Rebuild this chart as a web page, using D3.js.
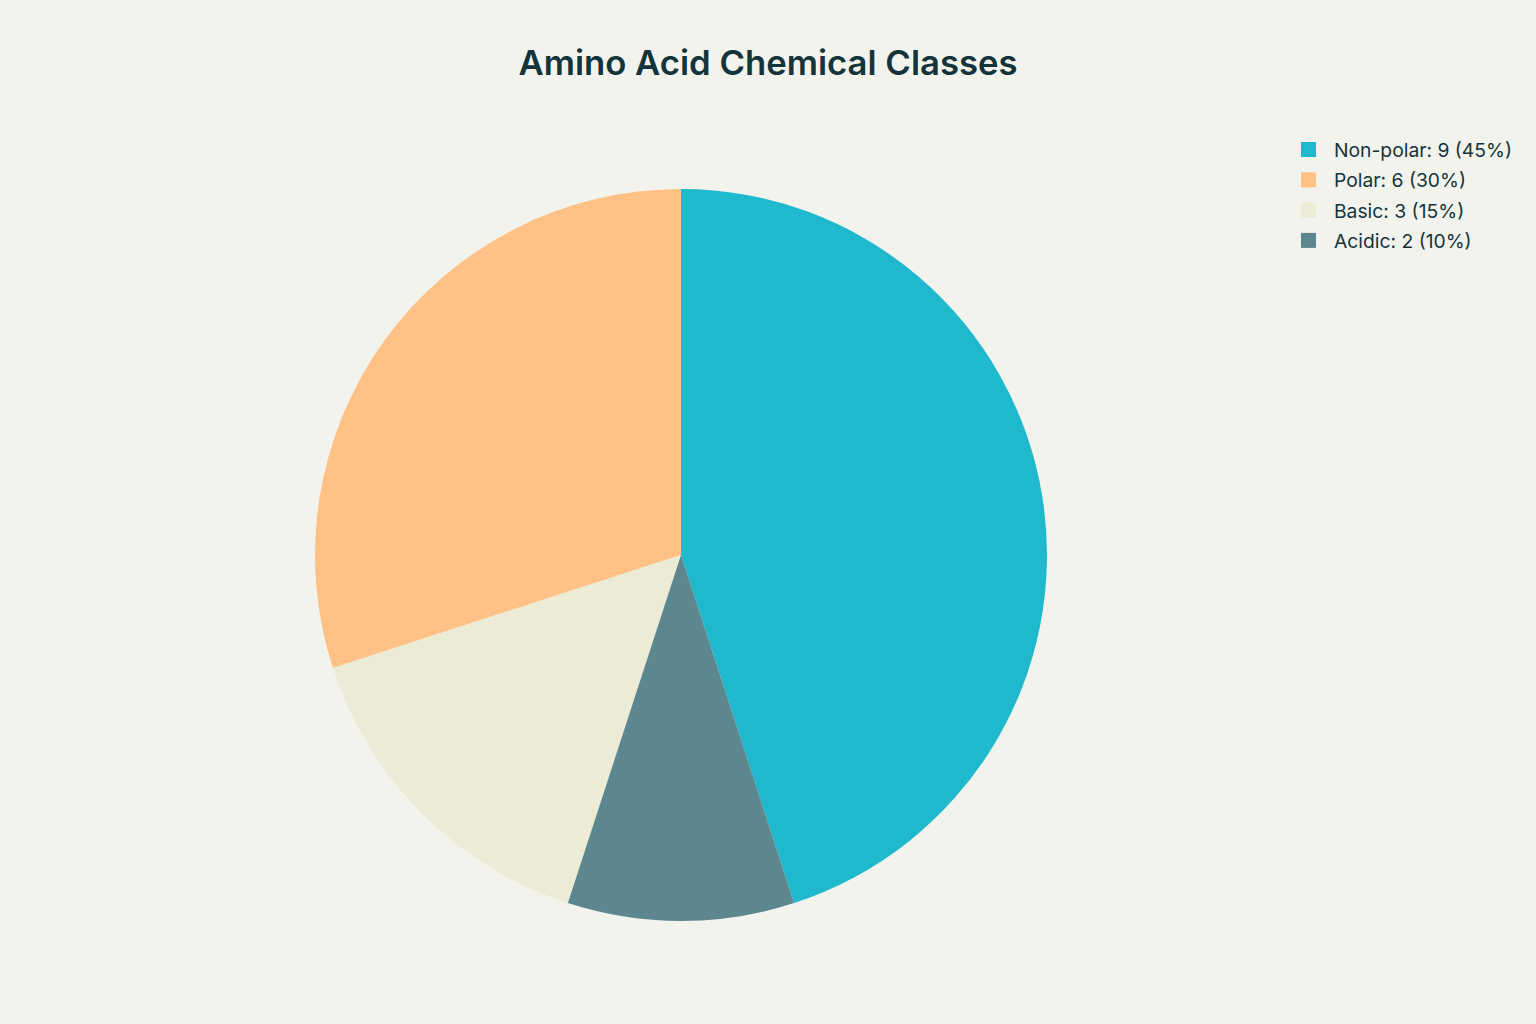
<!DOCTYPE html>
<html>
<head>
    <title>Amino Acid Chemical Classes</title>
    <script type="text/javascript" src="https://d3js.org/d3.v7.min.js"></script>
    <style>
        body { margin: 0; background: #F3F3EE; }
    </style>
</head>
<body>
    <div id="div-svg"></div>

    <script type="text/javascript">
        // chart data, legend order
        const categories = ["Non-polar", "Polar", "Basic", "Acidic"];
        const counts = [9, 6, 3, 2];
        const colors = ["#1FB8CD", "#FFC185", "#ECEBD5", "#5D878F"];
        // order the slices run clockwise from 12 o'clock
        const sliceOrder = ["Non-polar", "Acidic", "Basic", "Polar"];

        let width = 1536;
        let height = 1024;

        let total = d3.sum(counts);
        let data = categories.map(function (c, i) {
            return { name: c, value: counts[i], color: colors[i] };
        });

        let svg = d3.select("#div-svg")
            .append("svg")
            .attr("id", "svg-1")
            .attr("width", width)
            .attr("height", height);

        svg.append("rect")
            .attr("width", width)
            .attr("height", height)
            .attr("fill", "#F3F3EE");

        // title
        svg.append("text")
            .attr("x", 768)
            .attr("y", 75)
            .attr("text-anchor", "middle")
            .attr("font-family", "Inter, 'Open Sans', sans-serif")
            .attr("font-weight", 600)
            .attr("font-size", 34.7)
            .attr("fill", "#13343B")
            .text("Amino Acid Chemical Classes");

        // pie
        let pie = d3.pie()
            .value(function (d) { return d.value; })
            .sort(function (a, b) { return sliceOrder.indexOf(a.name) - sliceOrder.indexOf(b.name); });

        let arc = d3.arc()
            .innerRadius(0)
            .outerRadius(366);

        svg.append("g")
            .attr("transform", "translate(681,555)")
            .selectAll("path")
            .data(pie(data))
            .enter()
            .append("path")
            .attr("d", arc)
            .attr("fill", function (d) { return d.data.color; });

        // legend
        let legend = svg.append("g")
            .attr("transform", "translate(1301,150)")
            .selectAll("g")
            .data(data)
            .enter()
            .append("g")
            .attr("transform", function (d, i) { return "translate(0," + (i * 30.3) + ")"; });

        legend.append("rect")
            .attr("x", 0)
            .attr("y", -8)
            .attr("width", 15)
            .attr("height", 15)
            .attr("fill", function (d) { return d.color; });

        legend.append("text")
            .attr("x", 33)
            .attr("y", 7)
            .attr("font-family", "Inter, 'Open Sans', sans-serif")
            .attr("font-size", 19.3)
            .attr("fill", "#13343B")
            .text(function (d) {
                return d.name + ": " + d.value + " (" + Math.round(d.value / total * 100) + "%)";
            });
    </script>
</body>
</html>
